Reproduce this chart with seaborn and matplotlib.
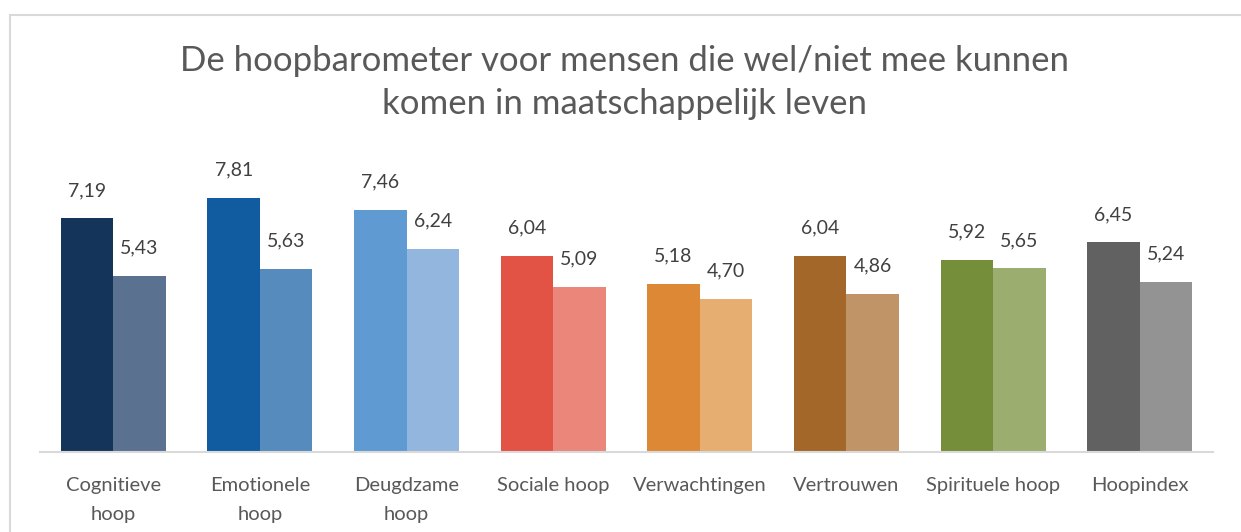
import matplotlib
matplotlib.use("Agg")
import matplotlib.pyplot as plt
import seaborn as sns
import pandas as pd
from matplotlib.patches import Rectangle

categories = ["Cognitieve hoop", "Emotionele hoop", "Deugdzame hoop", "Sociale hoop",
              "Verwachtingen", "Vertrouwen", "Spirituele hoop", "Hoopindex"]
tick_labels = ["Cognitieve\nhoop", "Emotionele\nhoop", "Deugdzame\nhoop", "Sociale hoop",
               "Verwachtingen", "Vertrouwen", "Spirituele hoop", "Hoopindex"]
groups = ["wel mee", "niet mee"]
values_wel = [7.19, 7.81, 7.46, 6.04, 5.18, 6.04, 5.92, 6.45]
values_niet = [5.43, 5.63, 6.24, 5.09, 4.70, 4.86, 5.65, 5.24]
colors_wel = ["#143459", "#115CA0", "#5F9AD3", "#E35345", "#DD8835", "#A36829", "#758E39", "#616161"]
colors_niet = ["#5A7190", "#568CBD", "#92B6DE", "#EB867B", "#E6AE70", "#C09466", "#9CAE6F", "#939393"]
title = "De hoopbarometer voor mensen die wel/niet mee kunnen\nkomen in maatschappelijk leven"

sns.set_theme(style="white")
plt.rcParams["font.family"] = ["Lato", "DejaVu Sans"]

df = pd.DataFrame({
    "categorie": categories * 2,
    "groep": [groups[0]] * len(categories) + [groups[1]] * len(categories),
    "waarde": values_wel + values_niet,
})

fig = plt.figure(figsize=(12.41, 5.32), dpi=100)
ax = fig.add_axes([40 / 1241, 1 - 452 / 532, 1173 / 1241, (452 - 159.5) / 532])

sns.barplot(data=df, x="categorie", y="waarde", hue="groep", order=categories,
            hue_order=groups, width=0.716, gap=0, ax=ax, legend=False,
            errorbar=None, saturation=1)

n = len(categories)
bars = [p for p in ax.patches if isinstance(p, Rectangle)]
for i, p in enumerate(bars[:n]):
    p.set_facecolor(colors_wel[i]); p.set_edgecolor("none")
for i, p in enumerate(bars[n:2 * n]):
    p.set_facecolor(colors_niet[i]); p.set_edgecolor("none")

for cont in ax.containers:
    ax.bar_label(cont, labels=[f"{v:.2f}".replace(".", ",") for v in cont.datavalues],
                 padding=14, fontsize=14, color="#404040")

ax.set_ylim(0, 9)
ax.set_xlim(-0.5, n - 0.5)
ax.set_yticks([])
ax.set_xlabel("")
ax.set_ylabel("")
ax.set_xticks(range(n))
ax.set_xticklabels(tick_labels, fontsize=14.5, color="#595959", linespacing=1.85)
ax.tick_params(axis="x", length=0, pad=18)
for s in ["top", "right", "left"]:
    ax.spines[s].set_visible(False)
ax.spines["bottom"].set_color("#D9D9D9")
ax.spines["bottom"].set_linewidth(1.5)

fig.text(0.503, 1 - 82.5 / 532, title, ha="center", va="center", fontsize=25,
         color="#595959", linespacing=1.42)

fig.patches.append(Rectangle((10 / 1241, -0.1), 1.2, 1 - 15 / 532 + 0.1,
                             transform=fig.transFigure, fill=False,
                             edgecolor="#D9D9D9", linewidth=1.5))

fig.savefig("out.png", dpi=100)
